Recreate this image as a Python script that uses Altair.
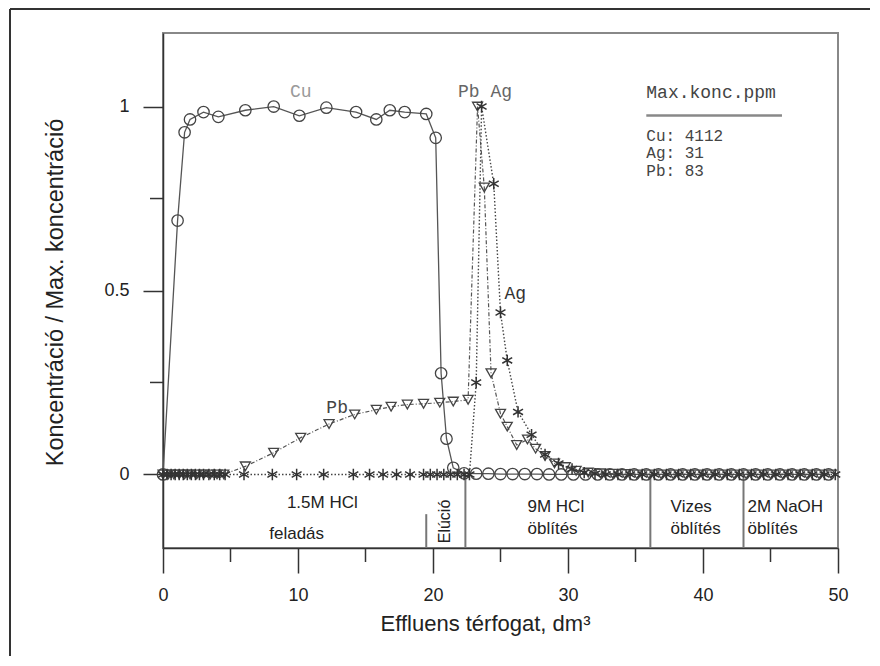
import altair as alt
import pandas as pd

# ---- data ----
cu_x = [0, 1.08, 1.6, 2.0, 3.0, 4.1, 6.1, 8.2, 10.1, 12.1, 14.3, 15.8, 16.8, 17.9, 19.5, 20.2,
        20.6, 21.0, 21.5, 22.3, 23.2, 24.1, 25.0, 25.9, 26.8, 27.7, 28.6, 29.5, 30.4, 31.3,
        32.2, 33.1, 34.0, 34.9, 35.8, 36.7, 37.6, 38.5, 39.4, 40.3, 41.2, 42.1, 43.0, 43.9,
        44.8, 45.7, 46.6, 47.5, 48.4, 49.3]
cu_y = [0, 0.69, 0.93, 0.965, 0.985, 0.972, 0.99, 1.0, 0.975, 0.997, 0.985, 0.965, 0.99, 0.985,
        0.98, 0.915, 0.275, 0.097, 0.018, 0.003, 0.002, 0.002, 0.001, 0.001, 0.001, 0.001, 0.0,
        0.0, 0.0, 0.0, 0.0, 0.0, 0.0, 0.0, 0.0, 0.0, 0.0, 0.0, 0.0, 0.0, 0.0, 0.0, 0.0, 0.0,
        0.0, 0.0, 0.0, 0.0, 0.0, 0.0]

pb_x = [0, 0.4, 0.8, 1.2, 1.6, 2.0, 2.5, 3.0, 3.5, 4.0, 4.5, 6.1, 8.2, 10.2, 12.3, 14.2, 15.8,
        16.9, 18.1, 19.3, 20.5, 21.5, 22.6, 23.3, 23.8, 24.3, 25.0, 25.5, 26.2, 27.0, 27.6,
        28.3, 29.0, 29.8, 30.6, 31.5, 32.4, 33.3, 34.2, 35.1, 36.0, 36.9, 37.8, 38.7, 39.6,
        40.5, 41.4, 42.3, 43.2, 44.1, 45.0, 45.9, 46.8, 47.7, 48.6, 49.5]
pb_y = [0, 0, 0, 0, 0, 0, 0, 0, 0, 0, 0, 0.022, 0.059, 0.10, 0.137, 0.163, 0.176, 0.184, 0.19,
        0.192, 0.195, 0.198, 0.203, 1.0, 0.78, 0.275, 0.165, 0.13, 0.08, 0.095, 0.07, 0.05,
        0.03, 0.02, 0.01, 0.005, 0.003, 0.002, 0.001, 0.0, 0.0, 0.0, 0.0, 0.0, 0.0, 0.0, 0.0,
        0.0, 0.0, 0.0, 0.0, 0.0, 0.0, 0.0, 0.0, 0.0]

ag_x = [0, 0.3, 0.6, 0.9, 1.2, 1.5, 1.8, 2.1, 2.4, 2.7, 3.0, 3.4, 3.8, 4.2, 4.6, 6.0, 8.1, 9.9,
        11.9, 14.1, 15.3, 16.3, 17.3, 18.3, 19.3, 19.8, 20.3, 20.8, 21.3, 21.8, 22.3, 22.7,
        23.2, 23.6, 24.5, 25.0, 25.5, 26.3, 27.3, 28.3, 29.3, 30.3, 31.2, 32.0, 32.8, 33.7,
        34.6, 35.5, 36.4, 37.3, 38.2, 39.1, 40.0, 40.9, 41.8, 42.7, 43.6, 44.5, 45.4, 46.3,
        47.2, 48.1, 49.0, 49.8]
ag_y = [0, 0, 0, 0, 0, 0, 0, 0, 0, 0, 0, 0, 0, 0, 0, 0, 0, 0, 0, 0, 0, 0, 0, 0, 0, 0, 0, 0, 0,
        0, 0, 0, 0.25, 1.0, 0.79, 0.44, 0.31, 0.17, 0.108, 0.054, 0.03, 0.015, 0.005, 0.002,
        0.0, 0.0, 0.0, 0.0, 0.0, 0.0, 0.0, 0.0, 0.0, 0.0, 0.0, 0.0, 0.0, 0.0, 0.0, 0.0, 0.0,
        0.0, 0.0, 0.0]

# phase boundaries on the x axis
phase_x = [22.4, 36.1, 43.0]
short_x = [19.5]

# phase labels
phase_text = ["1.5M HCl", "feladás", "9M HCl", "öblítés", "Vizes", "öblítés", "2M NaOH", "öblítés"]
phase_tx = [11.8, 9.9, 27.0, 27.0, 37.6, 37.6, 43.3, 43.3]
phase_ty = [-0.078, -0.162, -0.089, -0.149, -0.089, -0.149, -0.089, -0.149]
phase_align = ["center", "center", "left", "left", "left", "left", "left", "left"]

# series labels in the plot
series_text = ["Cu", "Pb Ag", "Ag", "Pb"]
series_tx = [10.2, 23.85, 26.1, 12.9]
series_ty = [1.04, 1.04, 0.49, 0.18]
series_col = ["#9a9a9a", "#666666", "#333333", "#444444"]

# legend box text
legend_title = "Max.konc.ppm"
legend_lines = ["Cu: 4112", "Ag: 31", "Pb: 83"]
legend_ty = [0.921, 0.873, 0.824]

y_ticks_major = [0, 0.5, 1]
y_ticks_minor = [0.25, 0.75]
x_ticks_major = [0, 10, 20, 30, 40, 50]
x_ticks_minor = [5, 15, 25, 35, 45]

SANS = "Liberation Sans"
MONO = "Liberation Mono"

xscale = alt.Scale(domain=[0, 50], nice=False, zero=False)
yscale = alt.Scale(domain=[-0.2, 1.2], nice=False, zero=False)

xaxis = alt.Axis(values=x_ticks_major, tickSize=25, labelPadding=13, labelFontSize=18,
                 labelFont=SANS, labelColor="#222", labelFlush=False, grid=False,
                 domainColor="#333", domainWidth=1.5, tickColor="#333", tickWidth=1.5,
                 title="Effluens térfogat, dm³", titleFont=SANS, titleFontSize=22,
                 titleFontWeight="normal", titleColor="#222", titleX=322, titleY=75,
                 titleAlign="center", titleBaseline="middle")
yaxis = alt.Axis(values=y_ticks_major, tickSize=20, labelPadding=14, labelFontSize=18,
                 labelFont=SANS, labelColor="#222", labelExpr="'' + datum.value", grid=False,
                 domainColor="#333", domainWidth=1.5, tickColor="#333", tickWidth=1.5,
                 title="Koncentráció / Max. koncentráció", titleFont=SANS, titleFontSize=23.5,
                 titleFontWeight="normal", titleColor="#222", titleX=-108, titleY=259,
                 titleAngle=270, titleAlign="center", titleBaseline="middle")

X = alt.X("x:Q", scale=xscale, axis=xaxis)
Y = alt.Y("y:Q", scale=yscale, axis=yaxis)

cu = pd.DataFrame({"x": cu_x, "y": cu_y})
pb = pd.DataFrame({"x": pb_x, "y": pb_y})
ag = pd.DataFrame({"x": ag_x, "y": ag_y})

STAR = "M0,-1L0,1M-0.87,-0.5L0.87,0.5M-0.87,0.5L0.87,-0.5"

cu_line = alt.Chart(cu).mark_line(color="#555", strokeWidth=1.3).encode(x=X, y=Y)
cu_pts = alt.Chart(cu).mark_point(shape="circle", filled=False, size=130, color="#444",
                                  strokeWidth=1.3, opacity=1).encode(x=X, y=Y)
pb_line = alt.Chart(pb).mark_line(color="#555", strokeWidth=1.2,
                                  strokeDash=[4, 2, 1, 2]).encode(x=X, y=Y)
pb_pts = alt.Chart(pb).mark_point(shape="triangle-down", filled=False, size=100, color="#444",
                                  strokeWidth=1.3, opacity=1).encode(x=X, y=Y)
ag_line = alt.Chart(ag).mark_line(color="#444", strokeWidth=1.4,
                                  strokeDash=[1.5, 2]).encode(x=X, y=Y)
ag_pts = alt.Chart(ag).mark_point(shape=STAR, filled=False, size=130, color="#333",
                                  strokeWidth=1.5, opacity=1).encode(x=X, y=Y)

# phase boundary rules
rules_df = pd.DataFrame({"x": phase_x, "y": [0.0] * len(phase_x), "y2": [-0.2] * len(phase_x)})
rules = alt.Chart(rules_df).mark_rule(color="#777", strokeWidth=2).encode(x=X, y=Y, y2="y2:Q")
short_df = pd.DataFrame({"x": short_x, "y": [-0.108], "y2": [-0.2]})
short_rule = alt.Chart(short_df).mark_rule(color="#777", strokeWidth=2).encode(x=X, y=Y, y2="y2:Q")

ph = pd.DataFrame({"x": phase_tx, "y": phase_ty, "t": phase_text, "a": phase_align})
ph_c = alt.Chart(ph[ph.a == "center"]).mark_text(font=SANS, fontSize=17, color="#222",
                                                 align="center", baseline="middle").encode(x=X, y=Y, text="t:N")
ph_l = alt.Chart(ph[ph.a == "left"]).mark_text(font=SANS, fontSize=17, color="#222",
                                               align="left", baseline="middle").encode(x=X, y=Y, text="t:N")
elu = alt.Chart(pd.DataFrame({"x": [20.9], "y": [-0.128], "t": ["Elúció"]})).mark_text(
    font=SANS, fontSize=16, color="#222", angle=270, align="center", baseline="middle"
).encode(x=X, y=Y, text="t:N")

sl = pd.DataFrame({"x": series_tx, "y": series_ty, "t": series_text, "c": series_col})
series_lbl = alt.Chart(sl).mark_text(font=MONO, fontSize=18, align="center",
                                     baseline="middle").encode(
    x=X, y=Y, text="t:N", color=alt.Color("c:N", scale=None))

leg_title = alt.Chart(pd.DataFrame({"x": [35.8], "y": [1.038], "t": [legend_title]})).mark_text(
    font=MONO, fontSize=18, color="#444", align="left", baseline="middle").encode(x=X, y=Y, text="t:N")
leg_line = alt.Chart(pd.DataFrame({"x": [35.8], "x2": [45.85], "y": [0.976]})).mark_rule(
    color="#888", strokeWidth=2.5).encode(x=X, x2="x2:Q", y=Y)
leg_rows = alt.Chart(pd.DataFrame({"x": [35.8] * 3, "y": legend_ty, "t": legend_lines})).mark_text(
    font=MONO, fontSize=16, color="#444", align="left", baseline="middle").encode(x=X, y=Y, text="t:N")

# minor ticks
ymin_df = pd.DataFrame({"y": y_ticks_minor})
ymin = alt.Chart(ymin_df).mark_rule(color="#333", strokeWidth=1.5).encode(
    y=Y, x=alt.value(-13), x2=alt.value(0))
xmin_df = pd.DataFrame({"x": x_ticks_minor})
xmin = alt.Chart(xmin_df).mark_rule(color="#333", strokeWidth=1.5).encode(
    x=X, y=alt.value(515), y2=alt.value(529))

# outer frame of the figure
one = pd.DataFrame({"k": [0]})
frame_top = alt.Chart(one).mark_rule(color="#333", strokeWidth=2).encode(
    x=alt.value(-153), x2=alt.value(720), y=alt.value(-24))
frame_left = alt.Chart(one).mark_rule(color="#333", strokeWidth=2).encode(
    x=alt.value(-153), y=alt.value(-24), y2=alt.value(640))

chart = alt.layer(
    rules, short_rule, cu_line, pb_line, ag_line, cu_pts, pb_pts, ag_pts,
    ph_c, ph_l, elu, series_lbl, leg_title, leg_line, leg_rows, ymin, xmin,
    frame_top, frame_left
).properties(
    width=675, height=515,
    padding={"left": 155, "top": 25, "right": 32, "bottom": 108},
    autosize=alt.AutoSizeParams(type="none"),
    background="white",
).configure_view(stroke="#888", strokeWidth=2)

chart.save("out.html", embed_options={"renderer": "svg", "actions": False})
